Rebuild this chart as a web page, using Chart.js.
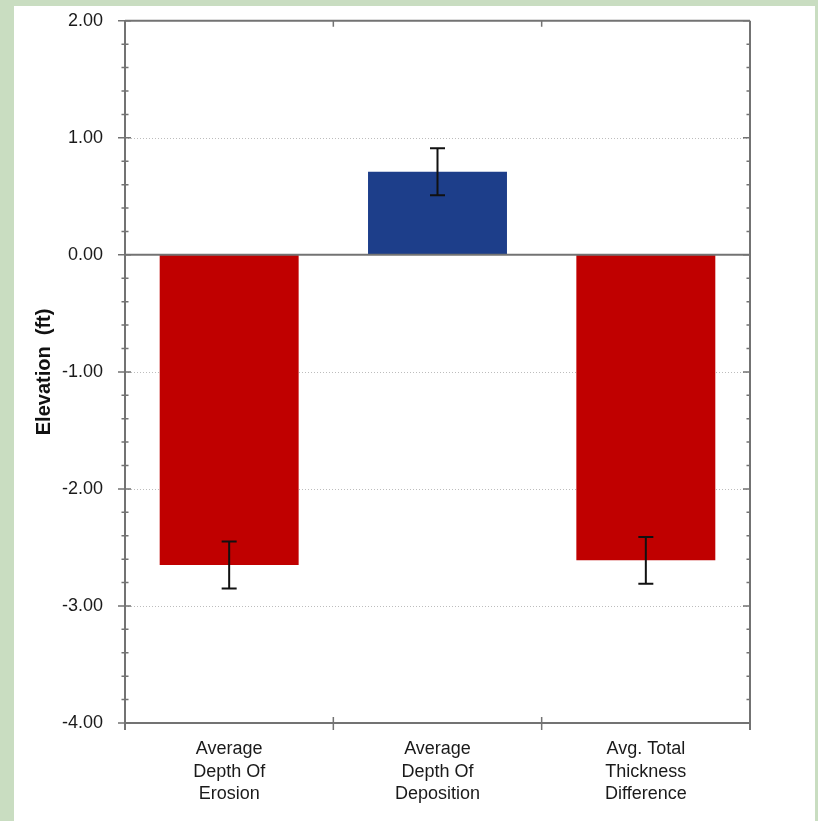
<!DOCTYPE html>
<html lang="en">
  <head>
    <meta charset="utf-8" />
    <script src="https://cdn.jsdelivr.net/npm/chart.js"></script>
    <title>Elevation</title>
    <style>
      body {
        margin: 0;
        padding: 0;
        background-color: #c9ddc1;
        width: 818px;
        height: 821px;
        overflow: hidden;
      }

      #panel {
        position: absolute;
        left: 14px;
        top: 6px;
        width: 801px;
        height: 815px;
        background-color: white;
        overflow: hidden;
      }

      #myChart {
        position: absolute;
        left: 0;
        top: -18px;
      }
    </style>
  </head>
  <body>
    <div id="panel">
      <canvas id="myChart" width="801" height="833"></canvas>
    </div>

    <script>
      // dados
      var categories = [
        ["Average", "Depth Of", "Erosion"],
        ["Average", "Depth Of", "Deposition"],
        ["Avg. Total", "Thickness", "Difference"]
      ];
      var elevation = [-2.65, 0.71, -2.61];
      var errorSize = [0.2, 0.2, 0.2];
      var barColors = ['#c00000', '#1d3e8a', '#c00000'];
      var yMin = -4, yMax = 2;

      var fontFamily = 'Arial, "Liberation Sans", sans-serif';
      var axisColor = '#737373';

      // linhas de grade pontilhadas, eixo zero, moldura, marcas e barras de erro
      var decorPlugin = {
        id: 'decor',
        beforeDatasetsDraw: function (chart) {
          var ctx = chart.ctx, a = chart.chartArea, y = chart.scales.y;
          ctx.save();
          ctx.strokeStyle = '#bdbdbd';
          ctx.lineWidth = 1;
          ctx.setLineDash([1, 2]);
          y.ticks.forEach(function (t) {
            if (t.value === yMin || t.value === yMax || t.value === 0) return;
            var py = Math.round(y.getPixelForValue(t.value)) + 0.5;
            ctx.beginPath();
            ctx.moveTo(a.left, py);
            ctx.lineTo(a.right, py);
            ctx.stroke();
          });
          ctx.restore();
        },
        afterDatasetsDraw: function (chart) {
          var ctx = chart.ctx, a = chart.chartArea, x = chart.scales.x, y = chart.scales.y;
          ctx.save();
          ctx.strokeStyle = axisColor;
          ctx.lineWidth = 2;

          // eixo zero
          var y0 = y.getPixelForValue(0);
          ctx.beginPath();
          ctx.moveTo(a.left, y0);
          ctx.lineTo(a.right, y0);
          ctx.stroke();

          // moldura
          ctx.beginPath();
          ctx.moveTo(a.left, a.top);
          ctx.lineTo(a.right, a.top);
          ctx.moveTo(a.left, a.bottom);
          ctx.lineTo(a.right, a.bottom);
          ctx.moveTo(a.left, a.top);
          ctx.lineTo(a.left, a.bottom + 7);
          ctx.moveTo(a.right, a.top);
          ctx.lineTo(a.right, a.bottom + 7);
          ctx.stroke();

          // marcas do eixo y (maiores e menores)
          ctx.lineWidth = 1.5;
          ctx.beginPath();
          for (var i = 0; i <= (yMax - yMin) * 5; i++) {
            var v = yMin + i * 0.2;
            var py = y.getPixelForValue(v);
            var major = i % 5 === 0;
            var len = major ? 7 : 3.5;
            ctx.moveTo(a.left - len, py);
            ctx.lineTo(a.left + (major ? 6 : 3.5), py);
            ctx.moveTo(a.right - len, py);
            ctx.lineTo(a.right, py);
          }
          // marcas entre categorias
          for (var c = 0; c < categories.length - 1; c++) {
            var px = (x.getPixelForValue(c) + x.getPixelForValue(c + 1)) / 2;
            ctx.moveTo(px, a.bottom - 6);
            ctx.lineTo(px, a.bottom + 7);
            ctx.moveTo(px, a.top);
            ctx.lineTo(px, a.top + 6);
          }
          ctx.stroke();

          // barras de erro
          ctx.strokeStyle = '#111111';
          ctx.lineWidth = 2;
          ctx.beginPath();
          elevation.forEach(function (val, k) {
            var cx = x.getPixelForValue(k);
            var top = y.getPixelForValue(val + errorSize[k]);
            var bot = y.getPixelForValue(val - errorSize[k]);
            ctx.moveTo(cx, top);
            ctx.lineTo(cx, bot);
            ctx.moveTo(cx - 7.5, top);
            ctx.lineTo(cx + 7.5, top);
            ctx.moveTo(cx - 7.5, bot);
            ctx.lineTo(cx + 7.5, bot);
          });
          ctx.stroke();
          ctx.restore();
        }
      };

      var config = {
        type: 'bar',
        data: {
          labels: categories,
          datasets: [{
            label: 'Elevation (ft)',
            data: elevation,
            backgroundColor: barColors,
            borderWidth: 0,
            barPercentage: 0.667,
            categoryPercentage: 1
          }]
        },
        options: {
          responsive: false,
          animation: false,
          events: [],
          layout: {
            padding: { top: 0, right: 65, bottom: 0, left: 0 }
          },
          plugins: {
            legend: { display: false },
            tooltip: { enabled: false }
          },
          scales: {
            y: {
              min: yMin,
              max: yMax,
              afterFit: function (scale) { scale.width = 111; },
              grid: { display: false, drawTicks: false },
              border: { display: false },
              ticks: {
                stepSize: 1,
                padding: 22,
                color: '#1a1a1a',
                font: { family: fontFamily, size: 18 },
                callback: function (v) { return v.toFixed(2); }
              },
              title: {
                display: true,
                text: 'Elevation  (ft)',
                color: '#111111',
                padding: { top: 18, bottom: 0 },
                font: { family: fontFamily, size: 20, weight: 'bold' }
              }
            },
            x: {
              afterFit: function (scale) { scale.height = 98; },
              grid: { display: false, drawTicks: false },
              border: { display: false },
              ticks: {
                padding: 15,
                color: '#1a1a1a',
                maxRotation: 0,
                font: { family: fontFamily, size: 18, lineHeight: 1.25 }
              }
            }
          }
        },
        plugins: [decorPlugin]
      };

      var ctx = document.getElementById('myChart').getContext('2d');
      var myChart = new Chart(ctx, config);
    </script>
  </body>
</html>
